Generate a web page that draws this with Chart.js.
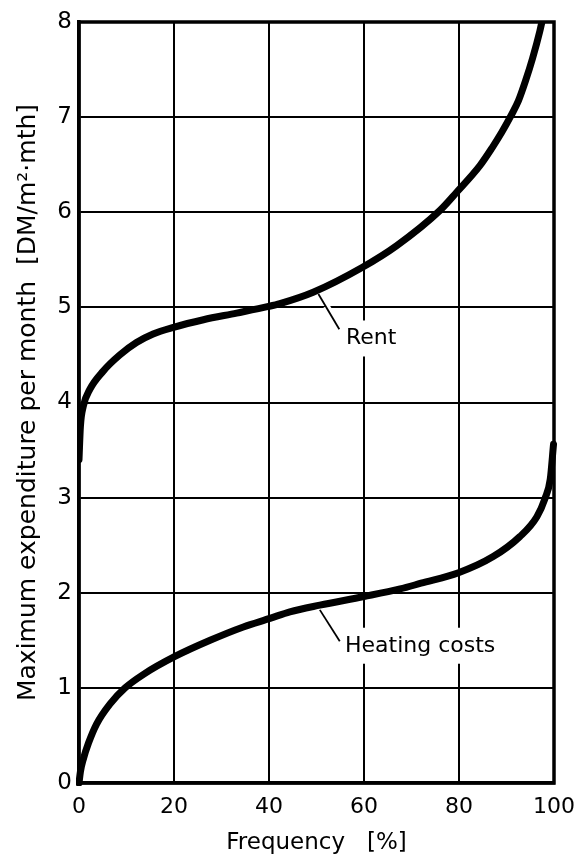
<!DOCTYPE html>
<html>
<head>
<meta charset="utf-8">
<script src="https://cdn.jsdelivr.net/npm/chart.js@4"></script>
<style>
  html, body { margin: 0; padding: 0; background: #fff; }
  #wrap { width: 574px; height: 865px; }
</style>
</head>
<body>
<div id="wrap"><canvas id="c" width="574" height="865"></canvas></div>
<script>
// ---- Data ----
const xTicks = [0, 20, 40, 60, 80, 100];
const yTicks = [0, 1, 2, 3, 4, 5, 6, 7, 8];

const rentX = [0, 0.3, 0.9, 2.3, 5.1, 8.6, 12.1, 15.6, 19.9, 26.2, 33.2, 39.9, 42.3, 49.3, 59.6, 66.9, 76.0, 79.5, 84.4, 87.0, 89.0, 91.0, 92.5, 94.0, 95.5, 97.0, 97.8];
const rentY = [3.4, 3.75, 3.96, 4.14, 4.33, 4.5, 4.63, 4.72, 4.79, 4.87, 4.94, 5.01, 5.04, 5.16, 5.42, 5.65, 6.02, 6.21, 6.49, 6.68, 6.84, 7.02, 7.17, 7.38, 7.62, 7.9, 8.08];

const heatX = [0, 0.3, 0.9, 2.0, 3.7, 6.5, 9.7, 13.5, 20.2, 27.6, 34.6, 40.2, 44.4, 50.7, 60.0, 67.6, 72.0, 79.9, 87.2, 92.8, 96.4, 98.1, 99.2, 99.9];
const heatY = [0, 0.12, 0.25, 0.42, 0.62, 0.83, 1.0, 1.14, 1.33, 1.5, 1.64, 1.73, 1.80, 1.87, 1.96, 2.04, 2.1, 2.21, 2.38, 2.59, 2.80, 2.99, 3.19, 3.56];

const seriesNames = ['Rent', 'Heating costs'];
const xTitle = 'Frequency   [%]';
const yTitle = 'Maximum expenditure per month  [DM/m\u00B2\u00B7mth]';

const FONT = 'DejaVu Sans';

const toPts = (xs, ys) => xs.map((x, i) => ({ x: x, y: ys[i] }));

// Curve labels with leader lines (in data units)
const curveLabels = [
  { text: seriesNames[0], from: [50.4, 5.14], to: [54.8, 4.77], at: [56.2, 4.61] },
  { text: seriesNames[1], from: [50.7, 1.82], to: [54.9, 1.49], at: [56.0, 1.38] }
];

const labelPlugin = {
  id: 'curveLabels',
  afterDatasetsDraw(chart) {
    const { ctx, scales: { x, y } } = chart;
    ctx.save();
    ctx.font = '22px "' + FONT + '"';
    ctx.textBaseline = 'alphabetic';
    ctx.textAlign = 'left';
    curveLabels.forEach(l => {
      const tx = x.getPixelForValue(l.at[0]);
      const ty = y.getPixelForValue(l.at[1]);
      const w = ctx.measureText(l.text).width;
      ctx.fillStyle = '#fff';
      ctx.fillRect(tx - 3, ty - 24, w + 6, 36);
      const x1 = x.getPixelForValue(l.from[0]), y1 = y.getPixelForValue(l.from[1]);
      const x2 = x.getPixelForValue(l.to[0]), y2 = y.getPixelForValue(l.to[1]);
      ctx.strokeStyle = '#fff';
      ctx.lineWidth = 8;
      ctx.beginPath();
      ctx.moveTo(x1 + (x2 - x1) * 0.35, y1 + (y2 - y1) * 0.35);
      ctx.lineTo(x2, y2);
      ctx.stroke();
      ctx.strokeStyle = '#000';
      ctx.lineWidth = 1.8;
      ctx.beginPath();
      ctx.moveTo(x1, y1);
      ctx.lineTo(x2, y2);
      ctx.stroke();
      ctx.fillStyle = '#000';
      ctx.fillText(l.text, tx, ty);
    });
    const a = chart.chartArea;
    ctx.strokeStyle = '#000';
    ctx.lineWidth = 3.5;
    ctx.strokeRect(a.left, a.top, a.right - a.left, a.bottom - a.top);
    ctx.restore();
  }
};

Chart.defaults.font.family = FONT;
Chart.defaults.color = '#000';

new Chart(document.getElementById('c'), {
  type: 'scatter',
  data: {
    datasets: [
      {
        label: seriesNames[0],
        data: toPts(rentX, rentY),
        showLine: true,
        borderColor: '#000',
        borderWidth: 7,
        pointRadius: 0,
        cubicInterpolationMode: 'monotone',
        borderCapStyle: 'round',
        clip: 0
      },
      {
        label: seriesNames[1],
        data: toPts(heatX, heatY),
        showLine: true,
        borderColor: '#000',
        borderWidth: 7,
        pointRadius: 0,
        cubicInterpolationMode: 'monotone',
        borderCapStyle: 'round',
        clip: 3
      }
    ]
  },
  options: {
    responsive: false,
    animation: false,
    devicePixelRatio: 1,
    layout: { padding: { left: 0, right: 20, top: 22, bottom: 0 } },
    plugins: {
      legend: { display: false },
      tooltip: { enabled: false }
    },
    scales: {
      x: {
        type: 'linear',
        min: 0, max: 100,
        afterBuildTicks: s => { s.ticks = xTicks.map(v => ({ value: v })); },
        afterFit: s => { s.height = 82; s.paddingRight = 0; s.paddingLeft = 0; },
        grid: { color: '#000', lineWidth: 2, drawTicks: false },
        border: { color: '#000', width: 3.5 },
        ticks: { font: { size: 22 }, padding: 11, maxRotation: 0 },
        title: { display: true, text: xTitle, font: { size: 23 }, padding: { top: 0, bottom: 8 } }
      },
      y: {
        type: 'linear',
        min: 0, max: 8,
        afterBuildTicks: s => { s.ticks = yTicks.map(v => ({ value: v })); },
        afterFit: s => { s.width = 79; s.paddingTop = 0; s.paddingBottom = 0; },
        grid: { color: '#000', lineWidth: 2, drawTicks: false },
        border: { color: '#000', width: 3.5 },
        ticks: { font: { size: 23 }, padding: 7 },
        title: { display: true, text: yTitle, font: { size: 25 }, padding: { top: 13, bottom: 0 } }
      }
    }
  },
  plugins: [labelPlugin]
});
</script>
</body>
</html>
